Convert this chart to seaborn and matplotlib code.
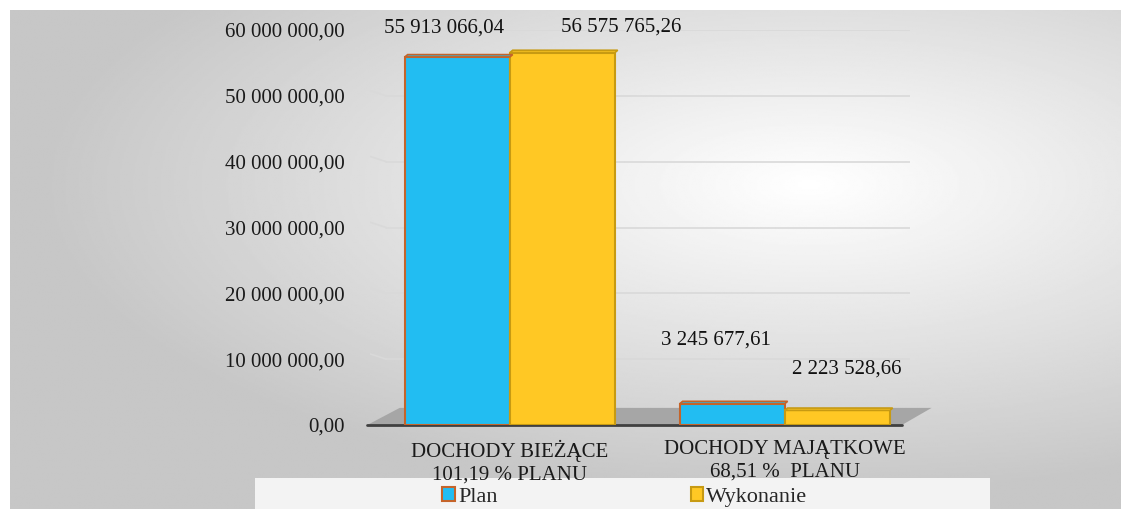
import numpy as np
import pandas as pd
import matplotlib.pyplot as plt
import matplotlib.patches as mpatches
import seaborn as sns

# data
categories = ['DOCHODY BIEŻĄCE\n101,19 % PLANU', 'DOCHODY MAJĄTKOWE\n68,51 %  PLANU']
series = ['Plan', 'Wykonanie']
plan = [55913066.04, 3245677.61]
wykonanie = [56575765.26, 2223528.66]
yticks = [0, 10e6, 20e6, 30e6, 40e6, 50e6, 60e6]

df = pd.DataFrame({
    'kategoria': categories * 2,
    'seria': [series[0]] * 2 + [series[1]] * 2,
    'wartosc': plan + wykonanie,
})

def fmt(v):
    s = f"{v:,.2f}"
    return s.replace(',', ' ').replace('.', ',')

sns.set_style('white')
plt.rcParams['font.family'] = ['Liberation Serif', 'DejaVu Serif']

W, H = 1121, 509
fig = plt.figure(figsize=(W / 100, H / 100), dpi=100)

# background card with radial gradient
bg = fig.add_axes([10 / W, 0, 1 - 10 / W, 1 - 10 / H], zorder=-10)
yy, xx = np.mgrid[0:1:300j, 0:1:600j]
r = np.sqrt(((xx - 0.72) / 1.0) ** 2 + ((yy - 0.35) / 0.9) ** 2)
shade = np.clip(1 - 0.32 * r, 0.78, 1)
bg.imshow(shade, cmap='gray', vmin=0, vmax=1, aspect='auto', extent=[0, 1, 1, 0])
bg.axis('off')

# legend strip
fig.patches.append(mpatches.Rectangle((255 / W, 0), 735 / W, 31 / H, transform=fig.transFigure,
                                      facecolor='#f3f3f3', edgecolor='none', zorder=-5))

ax = fig.add_axes([370 / W, 1 - 425 / H, 540 / W, (425 - 30) / H])
ax.patch.set_alpha(0)

palette = {'Plan': '#22BDF2', 'Wykonanie': '#FFC824'}
edges = {'Plan': '#C5642A', 'Wykonanie': '#C79A12'}
sns.barplot(data=df, x='kategoria', y='wartosc', hue='seria', palette=palette,
            width=0.764, saturation=1, ax=ax, legend=False, zorder=3)

ax.set_xlim(-0.509, 1.455)
ax.set_ylim(0, 60e6)
ax.set_yticks(yticks)
ax.set_yticklabels([fmt(v) for v in yticks], fontsize=15, color='#1a1a1a')
ax.tick_params(axis='y', length=0, pad=18)
ax.tick_params(axis='x', length=0, pad=11, labelsize=15, labelcolor='#1a1a1a')
ax.set_xlabel('')
ax.set_ylabel('')
for s in ax.spines.values():
    s.set_visible(False)

# gridlines with a small 3D slant at the left
for v in yticks[1:]:
    ax.plot([0.03, 1.0], [v, v], transform=ax.get_yaxis_transform(), color='#d9d9d9', lw=1.2, zorder=1)
    ax.plot([0.0, 0.03], [v + 0.8e6, v], transform=ax.get_yaxis_transform(), color='#d9d9d9', lw=1.2, zorder=1)

# floor
floor = mpatches.Polygon([(-0.005, 0), (0.055, 2.6e6), (1.04, 2.6e6), (0.985, 0)],
                         closed=True, transform=ax.get_yaxis_transform(),
                         facecolor='#a6a6a6', edgecolor='none', zorder=2, clip_on=False)
ax.add_patch(floor)
ax.plot([-0.005, 0.985], [0, 0], transform=ax.get_yaxis_transform(), color='#404040', lw=2, zorder=2,
        clip_on=False)

# bar styling, top faces, labels (offsets in pixels: Plan x2, then Wykonanie x2)
label_offsets = [(-13, 29), (-16, 64), (59, 25), (9, 41)]
bars = ax.patches[:4]
names = [series[0]] * 2 + [series[1]] * 2
vals = plan + wykonanie
for bar, name, val, off in zip(bars, names, vals, label_offsets):
    bar.set_edgecolor(edges[name])
    bar.set_linewidth(1.5)
    x0, w, h = bar.get_x(), bar.get_width(), bar.get_height()
    top = mpatches.Polygon([(x0, h), (x0 + 0.01, h + 0.35e6), (x0 + w + 0.01, h + 0.35e6), (x0 + w, h)],
                           closed=True, facecolor=palette[name], edgecolor=edges[name], lw=1.2, zorder=4)
    ax.add_patch(top)
    ax.annotate(fmt(val), (x0 + w / 2, h), xytext=(off[0] * 0.72, off[1] * 0.72),
                textcoords='offset points', ha='center', va='center', fontsize=15, color='#111111')

handles = [mpatches.Patch(facecolor=palette[s], edgecolor=edges[s], lw=1.5) for s in series]
fig.legend(handles, series, loc='center', bbox_to_anchor=(625 / W, 12 / H), ncol=2, frameon=False,
           fontsize=16, handlelength=0.55, handleheight=0.55, handletextpad=0.15, columnspacing=8.7,
           borderpad=0.1)

fig.savefig('out.png', dpi=100)
